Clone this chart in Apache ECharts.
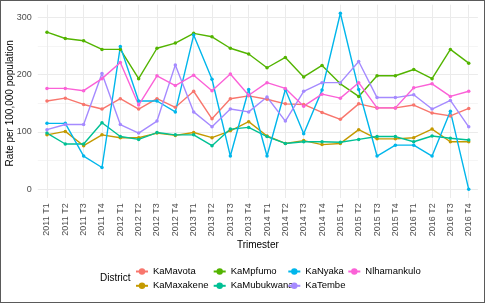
<!DOCTYPE html>
<html>
<head>
<meta charset="utf-8">
<script src="https://cdn.jsdelivr.net/npm/echarts@6/dist/echarts.min.js"></script>
<style>
  html, body { margin: 0; padding: 0; background: #fff; }
  #wrap { position: relative; width: 485px; height: 303px; }
  #chart { width: 485px; height: 303px; }
  #frame { position: absolute; left: 0; top: 0; width: 483px; height: 301px; border: 1px solid #5a5a5a; pointer-events: none; }
</style>
</head>
<body>
<div id="wrap">
  <div id="chart"></div>
  <div id="frame"></div>
</div>
<script>
// quarters
const trimesters = [
  "2011 T1", "2011 T2", "2011 T3", "2011 T4",
  "2012 T1", "2012 T2", "2012 T3", "2012 T4",
  "2013 T1", "2013 T2", "2013 T3", "2013 T4",
  "2014 T1", "2014 T2", "2014 T3", "2014 T4",
  "2015 T1", "2015 T2", "2015 T3", "2015 T4",
  "2016 T1", "2016 T2", "2016 T3", "2016 T4",
];
const yTicks = [0, 100, 200, 300];

// rate per 100,000 by district
const kaMavota = [154, 159, 148, 140, 158, 140, 158, 143, 171, 123, 158, 163, 157, 149, 148, 134, 122, 149, 142, 142, 147, 133, 128, 141];
const kaMaxakene = [95, 101, 76, 95, 90, 90, 98, 94, 99, 90, 102, 118, 93, 80, 85, 78, 80, 104, 88, 88, 90, 105, 83, 83];
const kaMpfumo = [274, 263, 259, 244, 244, 193, 246, 255, 272, 266, 246, 236, 212, 230, 196, 216, 184, 162, 198, 198, 209, 193, 244, 220];
const kaMubukwana = [98, 79, 79, 116, 92, 87, 99, 95, 95, 76, 105, 108, 92, 80, 83, 83, 82, 87, 92, 92, 83, 93, 89, 86];
const kaNyaka = [115, 115, 58, 38, 249, 154, 154, 135, 269, 192, 58, 174, 58, 174, 97, 173, 307, 174, 58, 77, 77, 58, 136, 0];
const kaTembe = [104, 113, 113, 202, 113, 98, 119, 217, 135, 109, 140, 135, 161, 119, 171, 186, 186, 223, 160, 160, 165, 140, 155, 109];
const nlhamankulo = [176, 176, 172, 193, 221, 147, 198, 181, 199, 172, 201, 164, 186, 176, 145, 166, 159, 186, 142, 142, 177, 184, 162, 171];

const districts = [
  { name: "KaMavota", color: "#F8766D", data: kaMavota },
  { name: "KaMaxakene", color: "#C49A00", data: kaMaxakene },
  { name: "KaMpfumo", color: "#53B400", data: kaMpfumo },
  { name: "KaMubukwana", color: "#00C094", data: kaMubukwana },
  { name: "KaNyaka", color: "#00B6EB", data: kaNyaka },
  { name: "KaTembe", color: "#A58AFF", data: kaTembe },
  { name: "Nlhamankulo", color: "#FB61D7", data: nlhamankulo },
];

const font = "Liberation Sans";
const gridColor = "#EBEBEB";

// legend is filled column by column like ggplot
const legendCols = [
  { left: 135, names: ["KaMavota", "KaMaxakene"] },
  { left: 212.7, names: ["KaMpfumo", "KaMubukwana"] },
  { left: 287.3, names: ["KaNyaka", "KaTembe"] },
  { left: 347.3, names: ["Nlhamankulo"] },
];

const myChart = echarts.init(document.getElementById("chart"));

const option = {
  animation: false,
  textStyle: { fontFamily: font },
  grid: [
    { left: 37.8, right: 7.1, top: 17.3, bottom: 113.7, outerBoundsMode: "none" },
    // only used for the vertical grid lines over the whole panel height
    { left: 47, right: 16.3, top: 4.7, bottom: 105, outerBoundsMode: "none" },
  ],
  xAxis: [
    {
      type: "category",
      gridIndex: 0,
      data: trimesters,
      boundaryGap: true,
      axisLine: { show: false },
      axisTick: { show: false },
      splitLine: { show: false },
      axisLabel: {
        interval: 0,
        rotate: 90,
        margin: 14,
        fontSize: 9,
        color: "#4D4D4D",
        fontFamily: font,
      },
      name: "Trimester",
      nameLocation: "middle",
      nameGap: 51,
      nameMoveOverlap: false,
      nameTextStyle: { fontSize: 10, color: "#000", fontFamily: font },
    },
    {
      type: "value",
      gridIndex: 1,
      min: 0,
      max: trimesters.length - 1,
      interval: 1,
      axisLine: { show: false },
      axisTick: { show: false },
      axisLabel: { show: false },
      splitLine: { show: true, lineStyle: { color: gridColor, width: 1 } },
    },
  ],
  yAxis: [
    {
      type: "value",
      gridIndex: 0,
      min: yTicks[0],
      max: yTicks[yTicks.length - 1],
      interval: 100,
      axisLine: { show: false },
      axisTick: { show: false },
      axisLabel: { margin: 6, fontSize: 9, color: "#4D4D4D", fontFamily: font },
      splitLine: { show: true, lineStyle: { color: gridColor, width: 1 } },
      minorTick: { show: false, splitNumber: 2 },
      minorSplitLine: { show: true, lineStyle: { color: "#F2F2F2", width: 0.8 } },
      name: "Rate per 100,000 population",
      nameLocation: "middle",
      nameGap: 23,
      nameMoveOverlap: false,
      nameTextStyle: { fontSize: 10, color: "#000", fontFamily: font },
    },
    {
      type: "value",
      gridIndex: 1,
      min: 0,
      max: 1,
      show: false,
      splitLine: { show: false },
    },
  ],
  legend: legendCols.map((col) => ({
    orient: "vertical",
    left: col.left,
    top: 266.5,
    itemWidth: 12,
    itemHeight: 8,
    itemGap: 4.3,
    padding: 0,
    data: col.names,
    textStyle: { fontSize: 9.5, lineHeight: 10, color: "#000", fontFamily: font },
  })),
  graphic: [
    {
      type: "text",
      left: 100,
      top: 273.5,
      style: { text: "District", fontSize: 10, fill: "#000", fontFamily: font },
    },
  ],
  series: districts.map((d) => ({
    name: d.name,
    type: "line",
    xAxisIndex: 0,
    yAxisIndex: 0,
    data: d.data,
    clip: false,
    symbol: "circle",
    symbolSize: 3.5,
    showAllSymbol: true,
    color: d.color,
    lineStyle: { width: 1.4, color: d.color },
    itemStyle: { color: d.color },
  })),
};

myChart.setOption(option);
</script>
</body>
</html>
